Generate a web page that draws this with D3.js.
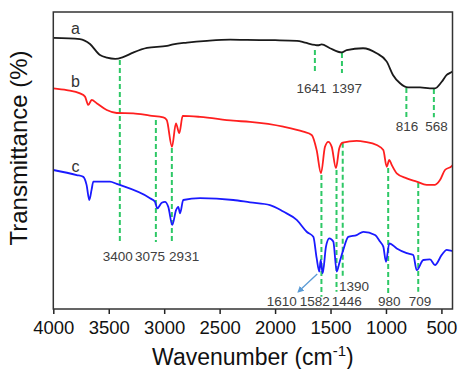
<!DOCTYPE html>
<html>
<head>
<meta charset="utf-8">
<script src="https://cdn.jsdelivr.net/npm/d3@7"></script>
<style>
  body { margin: 0; background: #fff; }
  svg text { font-family: "Liberation Sans", Arial, sans-serif; }
</style>
</head>
<body>
<div id="chart"></div>
<script>
// spectrum a (black)
const wnA = [4000, 3759, 3669, 3579, 3516, 3442, 3371, 3281, 3155, 2974, 2919, 2794, 2614, 2406, 2253, 2000, 1802, 1730, 1640, 1613, 1580, 1505, 1399, 1354, 1207, 1084, 993, 937, 873, 801, 693, 603, 558, 497, 452, 416, 400];
const tA = [91.3, 90.9, 89.2, 85.5, 84.6, 84.2, 84.8, 86.3, 87.9, 88.6, 89.1, 89.7, 90.3, 90.7, 90.6, 90.5, 90.3, 89.7, 88.9, 88.8, 89.1, 87.8, 86.4, 87.2, 87.8, 86.1, 83.3, 78.8, 76.0, 74.6, 74.6, 74.3, 74.3, 76.5, 78.8, 79.6, 80.0];

// spectrum b (red)
const wnB = [4000, 3879, 3759, 3714, 3684, 3654, 3609, 3518, 3428, 3279, 3128, 3008, 2977, 2930, 2894, 2864, 2833, 2677, 2377, 2226, 1926, 1745, 1670, 1625, 1586, 1550, 1520, 1489, 1451, 1421, 1390, 1264, 1189, 1084, 1024, 993, 970, 948, 903, 813, 723, 633, 558, 513, 468, 407, 400];
const tB = [74.3, 73.7, 72.6, 71.5, 68.7, 70.4, 69.3, 67.0, 66.0, 65.9, 65.1, 64.5, 63.6, 54.6, 62.5, 59.2, 65.0, 64.7, 63.4, 63.0, 61.4, 59.7, 58.6, 53.5, 45.7, 54.6, 56.3, 54.6, 47.4, 54.1, 56.0, 56.6, 56.3, 55.2, 53.5, 47.9, 50.2, 48.5, 45.7, 44.0, 42.9, 41.8, 41.8, 43.4, 46.8, 48.1, 48.4];

// spectrum c (blue)
const wnC = [4000, 3789, 3729, 3700, 3675, 3655, 3639, 3489, 3428, 3128, 3083, 3062, 3022, 2993, 2963, 2927, 2893, 2873, 2857, 2828, 2677, 2377, 2226, 2046, 1926, 1805, 1715, 1655, 1625, 1601, 1589, 1571, 1541, 1511, 1475, 1444, 1421, 1385, 1340, 1264, 1204, 1099, 1054, 1024, 1000, 970, 903, 813, 754, 723, 663, 603, 558, 497, 452, 407, 400];
const tC = [46.8, 45.1, 44.5, 41.8, 36.7, 40.1, 42.9, 42.9, 42.1, 37.3, 36.1, 33.9, 35.8, 36.1, 34.4, 28.3, 33.3, 34.4, 32.2, 36.7, 37.3, 36.7, 35.9, 35.0, 32.8, 30.0, 26.0, 24.3, 17.1, 12.6, 16.5, 12.0, 21.0, 23.8, 22.7, 12.6, 15.4, 19.9, 24.3, 24.9, 26.0, 24.9, 22.7, 21.0, 15.9, 22.1, 20.4, 18.8, 18.2, 13.1, 16.5, 16.7, 14.8, 18.2, 19.9, 19.6, 19.6];

const seriesNames = ["a", "b", "c"];
const xTicks = [4000, 3500, 3000, 2500, 2000, 1500, 1000, 500];

// marked bands (dashed green lines)
const peakWn = [3400, 3075, 2931, 1641, 1397, 816, 568, 1582, 1446, 1390, 980, 709];
const peakTop = [83.8, 63.6, 54.2, 87.2, 86.2, 74.4, 74.1, 45.1, 46.8, 56.0, 47.5, 42.4];
const peakBottom = [22.6, 22.6, 22.6, 79.5, 79.5, 64.6, 64.6, 4.1, 5.8, 10.4, 4.7, 5.8];

// band labels
const labelText = ["3400", "3075", "2931", "1641", "1397", "816", "568", "1610", "1582", "1446", "1390", "980", "709"];

// ---- layout ----
const W = 459, H = 369;
const margin = {top: 12, right: 6.5, bottom: 60, left: 53.3};
const width = W - margin.left - margin.right,
      height = H - margin.top - margin.bottom;

// where each label sits (wavenumber of centre, y value)
const labelPos = [[3419, 17.6], [3128, 17.6], [2820, 17.6], [1672, 74.4], [1351, 74.4], [810, 61.4], [544, 61.4],
                  [1940, 2.5], [1643, 2.5], [1354, 2.5], [1288, 7.7], [971, 2.5], [693, 2.5]];
const namePos = [[3800, 92.6], [3800, 74.6], [3800, 46.2]];

const svg = d3.select("#chart").append("svg")
  .attr("width", W)
  .attr("height", H);

const g = svg.append("g")
  .attr("transform", "translate(" + margin.left + "," + margin.top + ")");

const x = d3.scaleLinear().domain([4000, 400]).range([0, width]);
const y = d3.scaleLinear().domain([0, 100]).range([height, 0]);

// x axis
const xAxis = g.append("g")
  .attr("transform", "translate(0," + height + ")")
  .call(d3.axisBottom(x).tickValues(xTicks).tickFormat(d3.format("d"))
    .tickSize(5).tickSizeOuter(0).tickPadding(4));
xAxis.select(".domain").remove();
xAxis.selectAll("line").attr("stroke", "#222").attr("stroke-width", 1.5);
xAxis.selectAll("text").attr("font-size", 18.5).attr("fill", "#111").attr("dy", "0.85em");

// dashed lines
g.selectAll(".peak")
  .data(peakWn)
  .join("line")
  .attr("class", "peak")
  .attr("x1", d => x(d)).attr("x2", d => x(d))
  .attr("y1", (d, i) => y(peakTop[i]))
  .attr("y2", (d, i) => y(peakBottom[i]))
  .attr("stroke", "#2ec866")
  .attr("stroke-width", 2)
  .attr("stroke-dasharray", "5,3");

// spectra
const line = d3.line()
  .x(d => x(d[0]))
  .y(d => y(d[1]))
  .curve(d3.curveMonotoneX);

const spectra = [d3.zip(wnA, tA), d3.zip(wnB, tB), d3.zip(wnC, tC)];
const colors = ["#1a1a1a", "#ff1f1f", "#1a1aff"];

g.selectAll(".spec")
  .data(spectra)
  .join("path")
  .attr("class", "spec")
  .attr("fill", "none")
  .attr("stroke", (d, i) => colors[i])
  .attr("stroke-width", 1.8)
  .attr("stroke-linejoin", "round")
  .attr("d", line);

// series names
g.selectAll(".name")
  .data(seriesNames)
  .join("text")
  .attr("class", "name")
  .attr("x", (d, i) => x(namePos[i][0]))
  .attr("y", (d, i) => y(namePos[i][1]))
  .attr("text-anchor", "middle")
  .attr("font-size", 16)
  .attr("fill", "#333")
  .text(d => d);

// band labels
g.selectAll(".lbl")
  .data(labelText)
  .join("text")
  .attr("class", "lbl")
  .attr("x", (d, i) => x(labelPos[i][0]))
  .attr("y", (d, i) => y(labelPos[i][1]))
  .attr("text-anchor", "middle")
  .attr("dominant-baseline", "central")
  .attr("font-size", 13.5)
  .attr("fill", "#404040")
  .text(d => d);

// arrow pointing at the 1610 band
svg.append("defs").append("marker")
  .attr("id", "arr")
  .attr("viewBox", "0 0 10 10")
  .attr("refX", 8).attr("refY", 5)
  .attr("markerWidth", 5).attr("markerHeight", 5)
  .attr("orient", "auto")
  .append("path")
  .attr("d", "M0,0L10,5L0,10z")
  .attr("fill", "#5b9bd5");

g.append("line")
  .attr("x1", x(1620)).attr("y1", y(11.8))
  .attr("x2", x(1791)).attr("y2", y(5.8))
  .attr("stroke", "#5b9bd5")
  .attr("stroke-width", 1.3)
  .attr("marker-end", "url(#arr)");

// frame
g.append("rect")
  .attr("width", width)
  .attr("height", height)
  .attr("fill", "none")
  .attr("stroke", "#333")
  .attr("stroke-width", 1.5);

// axis titles
const xt = svg.append("text")
  .attr("x", margin.left + width / 2)
  .attr("y", 365)
  .attr("text-anchor", "middle")
  .attr("font-size", 23)
  .attr("fill", "#111");
xt.append("tspan").text("Wavenumber (cm");
xt.append("tspan").attr("font-size", 15).attr("dy", -9).text("-1");
xt.append("tspan").attr("dy", 9).text(")");

svg.append("text")
  .attr("transform", "translate(27," + 148 + ") rotate(-90)")
  .attr("text-anchor", "middle")
  .attr("font-size", 24)
  .attr("fill", "#111")
  .text("Transmittance (%)");
</script>
</body>
</html>
